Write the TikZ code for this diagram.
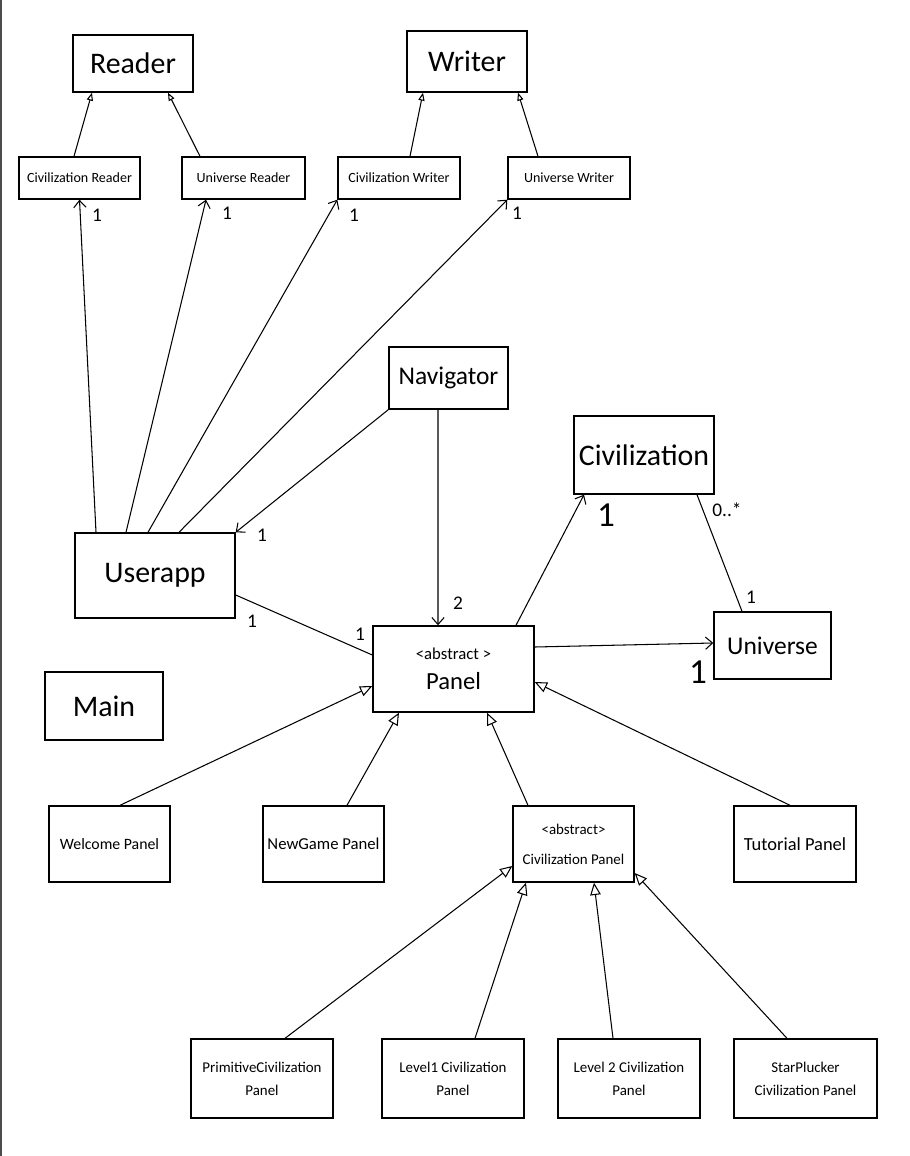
\documentclass[tikz,border=0pt]{standalone}
\usepackage{fontspec}
\setmainfont{Carlito}
\usetikzlibrary{arrows.meta}

\begin{document}
\begin{tikzpicture}[
    box/.style 2 args={draw, line width=0.8pt, minimum width=#1cm, minimum height=#2cm, inner sep=1pt, align=center},
    huge/.style={font=\fontsize{17}{19}\selectfont},
    big/.style={font=\fontsize{14.5}{16}\selectfont},
    mid/.style={font=\fontsize{9.5}{11}\selectfont},
    small/.style={font=\fontsize{8.5}{13}\selectfont},
    tiny/.style={font=\fontsize{8}{9}\selectfont},
    mult/.style={font=\fontsize{11}{12}\selectfont, inner sep=0pt},
    bigmult/.style={font=\fontsize{20}{22}\selectfont, inner sep=0pt},
    inherit/.style={line width=0.6pt, -{Triangle[open,length=7pt,width=6pt]}},
    subinherit/.style={line width=0.6pt, -{Triangle[open,length=4.5pt,width=3.5pt]}},
    assoc/.style={line width=0.6pt, -{Straight Barb[length=4pt,width=7pt]}}
]
    \useasboundingbox (0,0) rectangle (18.18,-23.12);
    \draw[gray!60!black, line width=1pt] (0.02,0) -- (0.02,-23.12);

    % readers and writers
    \node[box={2.4}{1.14}, huge] (reader) at (2.66,-1.27) {Reader};
    \node[box={2.4}{1.22}, huge] (writer) at (9.34,-1.23) {Writer};
    \node[box={2.42}{0.84}, tiny] (civreader) at (1.59,-3.56) {Civilization Reader};
    \node[box={2.46}{0.84}, tiny] (unireader) at (4.87,-3.56) {Universe Reader};
    \node[box={2.44}{0.84}, tiny] (civwriter) at (7.98,-3.56) {Civilization Writer};
    \node[box={2.44}{0.84}, tiny] (uniwriter) at (11.38,-3.56) {Universe Writer};

    \node[box={2.38}{1.24}, big] (navigator) at (8.97,-7.56) {Navigator};
    \node[box={2.8}{1.56}, huge] (civ) at (12.88,-9.10) {Civilization};
    \node[box={3.2}{1.70}, huge] (userapp) at (3.10,-11.51) {Userapp};
    \node[box={3.22}{1.72}, mid] (panel) at (9.07,-13.38) {<abstract >\\[6pt]{\fontsize{14}{16}\selectfont Panel}};
    \node[box={2.34}{1.34}, big] (universe) at (15.45,-12.91) {Universe};
    \node[box={2.36}{1.36}, huge] (main) at (2.08,-14.12) {Main};

    % panels
    \node[box={2.42}{1.52}, font=\fontsize{9}{11}\selectfont] (welcome) at (2.19,-16.88) {Welcome Panel};
    \node[box={2.42}{1.52}, mid] (newgame) at (6.47,-16.88) {NewGame Panel};
    \node[box={2.42}{1.52}, small] (civpanel) at (11.47,-16.88) {<abstract>\\[4pt]Civilization Panel};
    \node[box={2.44}{1.52}, font=\fontsize{10.5}{12}\selectfont] (tutorial) at (15.90,-16.88) {Tutorial Panel};

    \node[box={2.84}{1.58}, small] (primitive) at (5.24,-21.57) {PrimitiveCivilization\\Panel};
    \node[box={2.84}{1.58}, small] (level1) at (9.06,-21.57) {Level1 Civilization\\Panel};
    \node[box={2.84}{1.58}, small] (level2) at (12.58,-21.57) {Level 2 Civilization\\Panel};
    \node[box={2.86}{1.58}, small] (starplucker) at (16.11,-21.57) {StarPlucker\\Civilization Panel};

    \draw[subinherit] ([xshift=-0.11cm]civreader.north) -- ([xshift=-0.82cm]reader.south);
    \draw[subinherit] ([xshift=-0.87cm]unireader.north) -- ([xshift=0.70cm]reader.south);
    \draw[subinherit] ([xshift=0.22cm]civwriter.north) -- ([xshift=-0.88cm]writer.south);
    \draw[subinherit] ([xshift=-0.62cm]uniwriter.north) -- ([xshift=1.02cm]writer.south);

    \draw[assoc] ([xshift=-1.18cm]userapp.north) -- (civreader.south);
    \draw[assoc] ([xshift=-0.58cm]userapp.north) -- ([xshift=-0.75cm]unireader.south);
    \draw[assoc] ([xshift=-0.14cm]userapp.north) -- (civwriter.south west);
    \draw[assoc] ([xshift=0.48cm]userapp.north) -- (uniwriter.south west);
    \node[mult] (m1) at (1.94,-4.30) {1};
    \node[mult] (m2) at (4.54,-4.26) {1};
    \node[mult] (m3) at (7.08,-4.30) {1};
    \node[mult] (m4) at (10.34,-4.26) {1};

    \draw[assoc] (navigator.south west) -- (userapp.north east);
    \node[mult] (m5) at (5.24,-10.70) {1};
    \draw[assoc] ([xshift=-0.21cm]navigator.south) -- ([xshift=-0.31cm]panel.north);
    \node[mult] (m6) at (9.16,-12.06) {2};

    \draw[line width=0.6pt] ([yshift=-0.39cm]userapp.east) -- ([yshift=0.28cm]panel.west);
    \node[mult] (m7) at (5.04,-12.42) {1};
    \node[mult] (m8) at (7.20,-12.68) {1};

    \draw[assoc] ([xshift=1.25cm]panel.north) -- ([xshift=-1.2cm]civ.south);
    \node[bigmult] (m9) at (12.12,-10.30) {1};
    \draw[line width=0.6pt] ([xshift=1.06cm]civ.south) -- ([xshift=-0.61cm]universe.north);
    \node[mult] (m10) at (14.54,-10.20) {0..*};
    \node[mult] (m11) at (15.02,-11.94) {1};
    \draw[assoc] ([yshift=0.44cm]panel.east) -- ([yshift=0.05cm]universe.west);
    \node[bigmult] (m12) at (13.96,-13.44) {1};

    \draw[inherit] ([xshift=0.21cm]welcome.north) -- ([yshift=-0.34cm]panel.west);
    \draw[inherit] ([xshift=0.47cm]newgame.north) -- ([xshift=-1.09cm]panel.south);
    \draw[inherit] ([xshift=-0.91cm]civpanel.north) -- ([xshift=0.67cm]panel.south);
    \draw[inherit] ([xshift=-0.10cm]tutorial.north) -- ([yshift=-0.26cm]panel.east);

    \draw[inherit] ([xshift=0.46cm]primitive.north) -- ([yshift=-0.44cm]civpanel.west);
    \draw[inherit] ([xshift=0.44cm]level1.north) -- ([xshift=-0.95cm]civpanel.south);
    \draw[inherit] ([xshift=-0.32cm]level2.north) -- ([xshift=0.41cm]civpanel.south);
    \draw[inherit] ([xshift=-0.37cm]starplucker.north) -- ([yshift=-0.58cm]civpanel.east);
\end{tikzpicture}
\end{document}
